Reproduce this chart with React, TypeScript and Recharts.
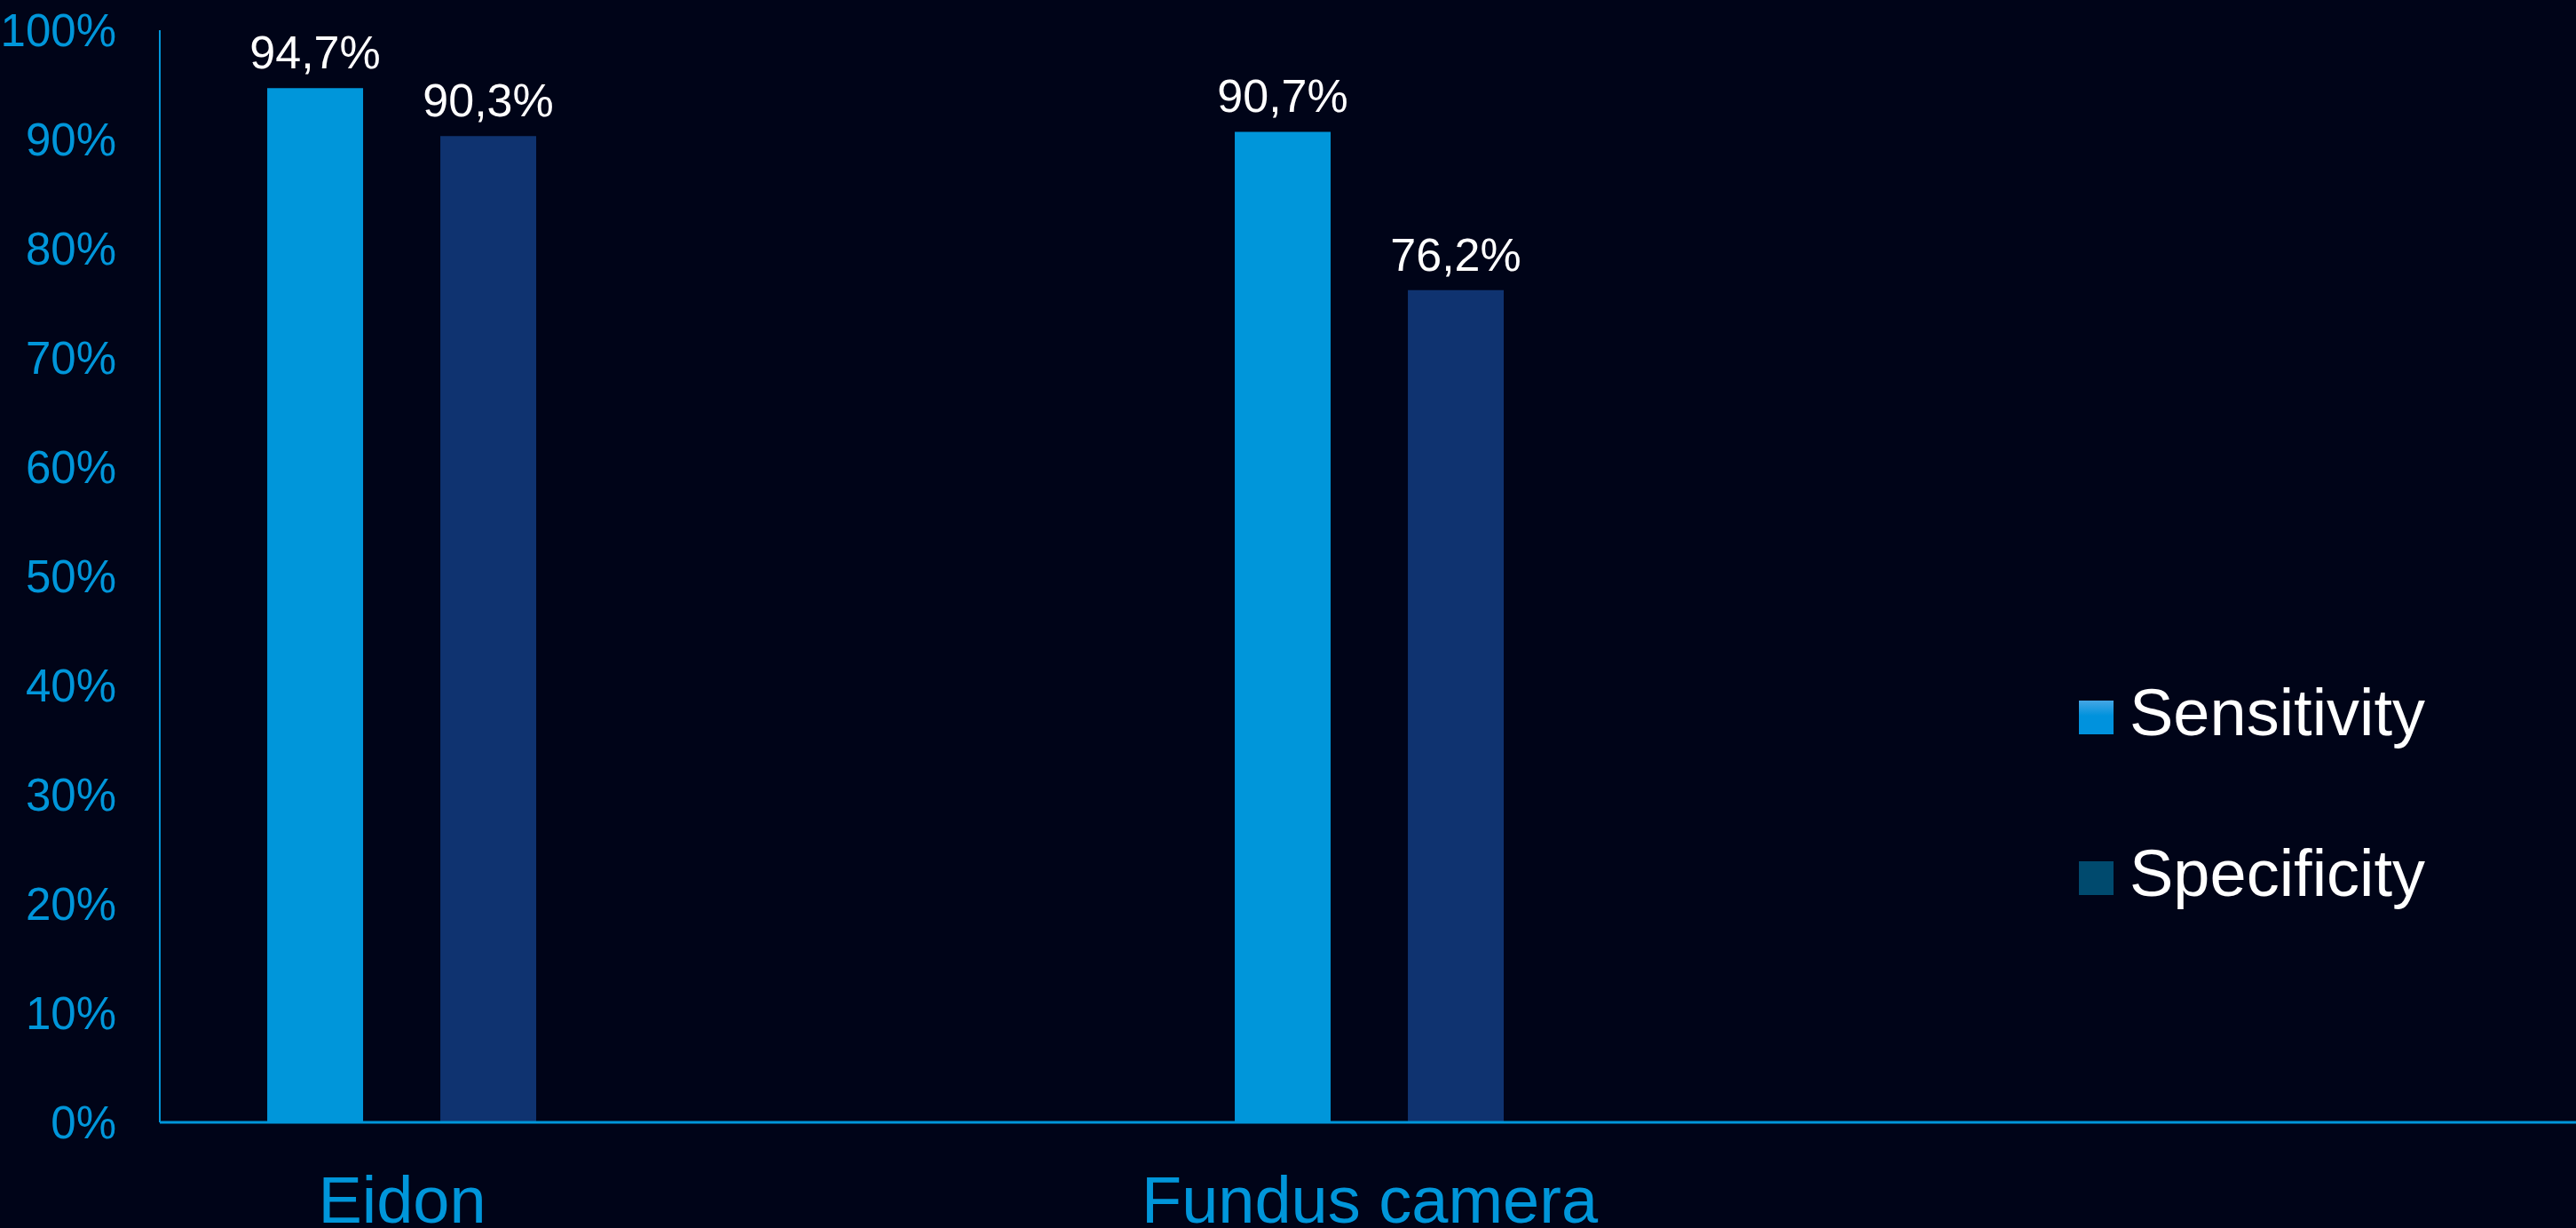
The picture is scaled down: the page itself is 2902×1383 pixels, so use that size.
import { BarChart, Bar, XAxis, YAxis, Legend, LabelList } from 'recharts';

const categories = ['Eidon', 'Fundus camera'];
const sensitivity = [94.7, 90.7];
const specificity = [90.3, 76.2];
const yTicks = [0, 10, 20, 30, 40, 50, 60, 70, 80, 90, 100];
const seriesNames = ['Sensitivity', 'Specificity'];

const BG = '#000418';
const BLUE = '#0096da';
const NAVY = '#0f3370';
const FONT = '"Liberation Sans", Arial, sans-serif';

// legend swatches in the source don't match the bar fills exactly
const swatches = ['linear-gradient(#45a6e4, #0092dd 45%)', '#004a6e'];

const chartData = categories.map((name, i) => ({
  pos: i,
  name,
  sensitivity: sensitivity[i],
  specificity: specificity[i],
}));

const pct = (v: number) => `${String(v).replace('.', ',')}%`;

const LegendBox = (props: any) => {
  const items = props.payload || [];
  return (
    <div style={{ fontFamily: FONT }}>
      {items.map((item: any, i: number) => (
        <div key={item.value} style={{ display: 'flex', alignItems: 'flex-start', height: 181 }}>
          <div style={{ width: 39, height: 38, marginTop: 23, background: swatches[i] }} />
          <span style={{ marginLeft: 18, fontSize: 74, lineHeight: '74px', color: '#ffffff' }}>
            {item.value}
          </span>
        </div>
      ))}
    </div>
  );
};

export default function App() {
  return (
    <div style={{ position: 'absolute', left: 0, top: 0, width: 2902, height: 1383, background: BG }}>
      <BarChart
        width={2902}
        height={1383}
        data={chartData}
        margin={{ top: 34, right: 0, bottom: 0, left: 0 }}
        barSize={108}
        barGap={87}
        style={{ fontFamily: FONT }}
      >
        <XAxis
          type="number"
          dataKey="pos"
          domain={[-0.2505, 2.2468]}
          ticks={[0, 1]}
          interval={0}
          tickFormatter={(v: number) => categories[v]}
          height={119}
          axisLine={{ stroke: BLUE, strokeWidth: 3 }}
          tickLine={false}
          tickSize={0}
          tickMargin={60}
          tick={{ fill: BLUE, fontSize: 74 }}
        />
        <YAxis
          domain={[0, 100]}
          ticks={yTicks}
          interval={0}
          width={180}
          tickFormatter={(v: number) => `${v}%`}
          axisLine={{ stroke: BLUE, strokeWidth: 2 }}
          tickLine={false}
          tickSize={0}
          tickMargin={49}
          tick={{ fill: BLUE, fontSize: 51 }}
        />
        <Legend
          layout="vertical"
          align="center"
          verticalAlign="middle"
          wrapperStyle={{ top: 766, left: 2342 }}
          content={<LegendBox />}
        />
        <Bar dataKey="sensitivity" name={seriesNames[0]} fill={BLUE} isAnimationActive={false}>
          <LabelList dataKey="sensitivity" position="top" offset={22} formatter={pct} fill="#ffffff" fontSize={52} />
        </Bar>
        <Bar dataKey="specificity" name={seriesNames[1]} fill={NAVY} isAnimationActive={false}>
          <LabelList dataKey="specificity" position="top" offset={22} formatter={pct} fill="#ffffff" fontSize={52} />
        </Bar>
      </BarChart>
    </div>
  );
}
